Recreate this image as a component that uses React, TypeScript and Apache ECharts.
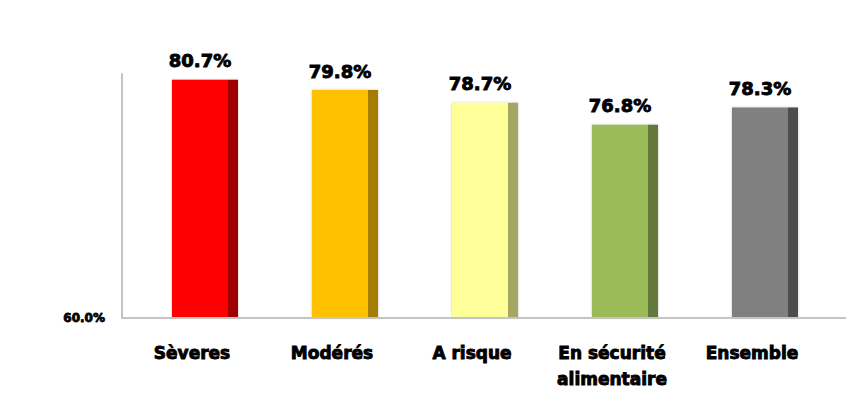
import React, { useEffect, useRef } from "react";
import * as echarts from "echarts";

const categories = ["Sèveres", "Modérés", "A risque", "En sécurité\nalimentaire", "Ensemble"];
const values = [80.7, 79.8, 78.7, 76.8, 78.3];
const faceColors = ["#FF0000", "#FFC000", "#FFFF99", "#9BBB59", "#808080"];
const sideColors = ["#A00000", "#A67D00", "#A6A663", "#64793A", "#4D4D4D"];
const yMin = 60;
const yMax = 81.2;

export default function App() {
  const ref = useRef<HTMLDivElement>(null);
  useEffect(() => {
    if (!ref.current) return;
    const chart = echarts.init(ref.current, null, { renderer: "svg" });
    const font = "'DejaVu Sans', sans-serif";
    chart.setOption({
      animation: false,
      backgroundColor: "#ffffff",
      grid: { left: 135, right: 23, top: 74, bottom: 85 },
      xAxis: {
        type: "category",
        data: categories,
        axisLine: { show: false },
        axisTick: { show: false },
        axisLabel: {
          color: "#000",
          fontFamily: font,
          fontWeight: "bold",
          fontSize: 17,
          lineHeight: 26,
          margin: 22,
          interval: 0,
          padding: [0, 26, 0, 0],
          textBorderColor: "#000",
          textBorderWidth: 0.9,
        },
      },
      yAxis: {
        type: "value",
        min: yMin,
        max: yMax,
        interval: 20,
        offset: 13,
        axisLine: { show: true, lineStyle: { color: "#c4c4c4", width: 2 } },
        axisTick: { show: false },
        splitLine: { show: false },
        axisLabel: {
          color: "#000",
          fontFamily: font,
          fontWeight: "bold",
          fontSize: 12,
          margin: 17,
          textBorderColor: "#000",
          textBorderWidth: 0.8,
          formatter: (v: number) => (v === yMin ? v.toFixed(1) + "%" : ""),
        },
      },
      graphic: [
        {
          type: "line",
          shape: { x1: 122, y1: 318, x2: 846, y2: 318 },
          style: { stroke: "#c4c4c4", lineWidth: 2 },
          z: 10,
        },
      ],
      series: [
        {
          type: "bar",
          barWidth: 66,
          data: values.map((v, i) => ({
            value: v,
            itemStyle: {
              color: new echarts.graphic.LinearGradient(0, 0, 1, 0, [
                { offset: 0, color: faceColors[i] },
                { offset: 0.85, color: faceColors[i] },
                { offset: 0.85, color: sideColors[i] },
                { offset: 1, color: sideColors[i] },
              ]),
              shadowColor: "rgba(0,0,0,0.25)",
              shadowBlur: 2,
            },
          })),
          label: {
            show: true,
            position: "top",
            distance: 10,
            offset: [-5, 0],
            color: "#000",
            fontFamily: font,
            fontWeight: "bold",
            fontSize: 18,
            textBorderColor: "#000",
            textBorderWidth: 0.9,
            formatter: (p: any) => p.value.toFixed(1) + "%",
          },
        },
      ],
    });
    return () => chart.dispose();
  }, []);
  return (
    <div
      ref={ref}
      style={{ position: "fixed", left: 0, top: 0, width: 858, height: 403 }}
    />
  );
}
